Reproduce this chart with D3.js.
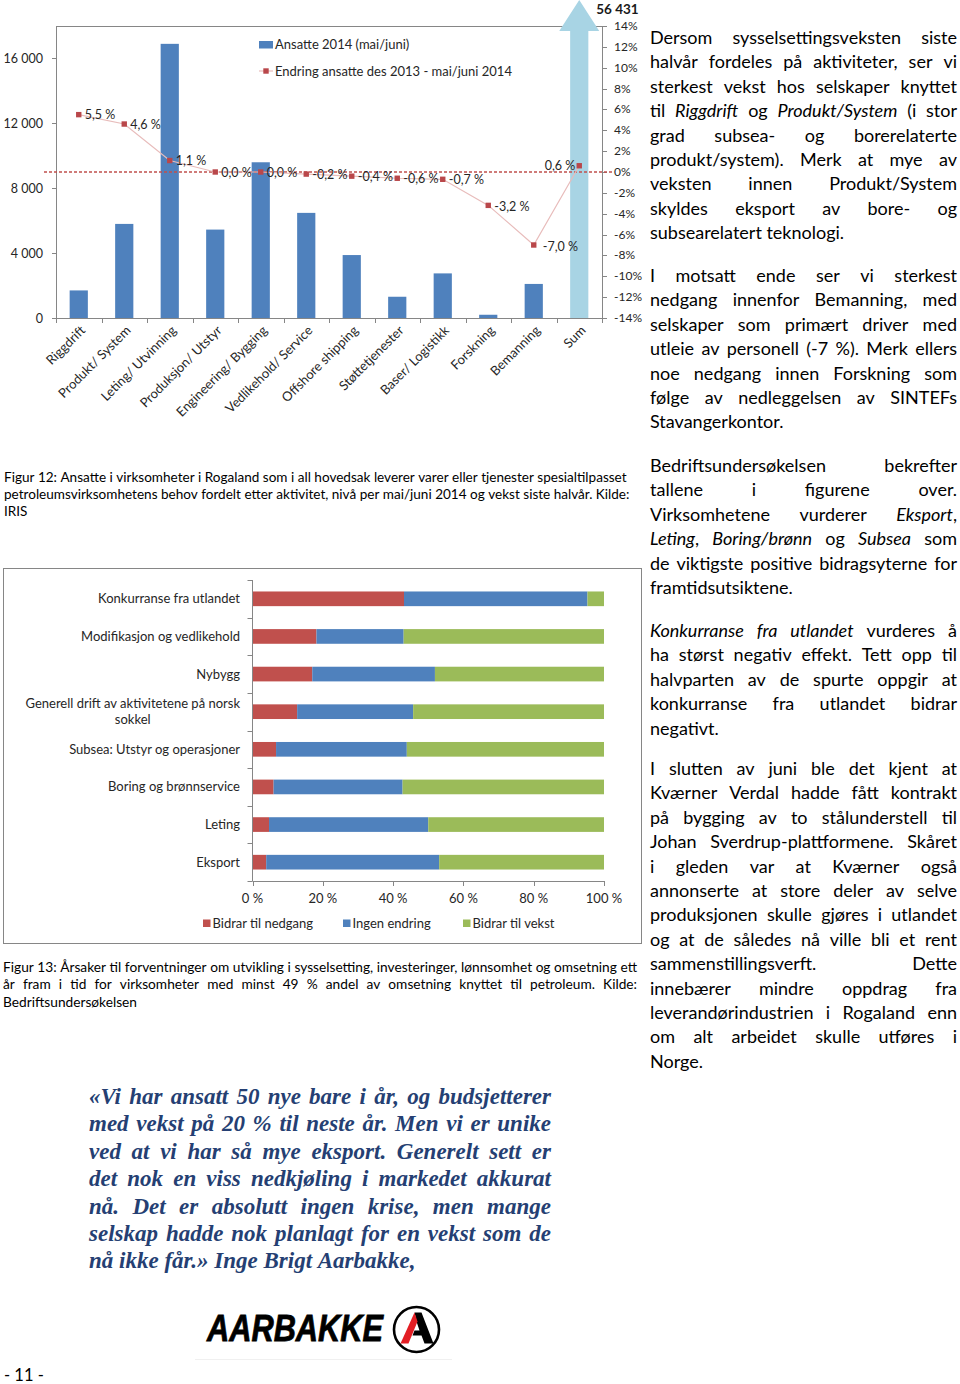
<!DOCTYPE html>
<html><head><meta charset="utf-8">
<script src="https://cdn.jsdelivr.net/npm/d3@7"></script>
<style>body{margin:0;background:#fff}svg{display:block}</style>
</head><body>
<svg id="page" width="960" height="1384"></svg>
<script>
// ---------------- DATA ----------------
const fig12Categories = ["Riggdrift","Produkt/ System","Leting/ Utvinning","Produksjon/ Utstyr","Engineering/ Bygging","Vedlikehold/ Service","Offshore shipping","Støttetjenester","Baser/ Logistikk","Forskning","Bemanning","Sum"];
const fig12Employees = [1700,5800,16900,5450,9600,6480,3880,1310,2750,200,2100,56431];
const fig12ChangePct = [5.5,4.6,1.1,0.0,0.0,-0.2,-0.4,-0.6,-0.7,-3.2,-7.0,0.6];
const fig12LeftTicks = [0,4000,8000,12000,16000];
const fig12RightTicks = [-14,-12,-10,-8,-6,-4,-2,0,2,4,6,8,10,12,14];
const fig12Legend = ["Ansatte 2014 (mai/juni)","Endring ansatte des 2013 - mai/juni 2014"];

const fig13Categories = ["Konkurranse fra utlandet","Modifikasjon og vedlikehold","Nybygg","Generell drift av aktivitetene på norsk sokkel","Subsea: Utstyr og operasjoner","Boring og brønnservice","Leting","Eksport"];
const fig13Negative = [43.1,18.2,17.0,12.7,6.7,6.0,4.7,3.9];
const fig13NoChange = [52.2,24.8,34.9,33.0,37.2,36.7,45.3,49.2];
const fig13Growth   = [4.7,57.0,48.1,54.3,56.1,57.3,50.0,46.9];
const fig13Ticks = [0,20,40,60,80,100];
const fig13Series = ["Bidrar til nedgang","Ingen endring","Bidrar til vekst"];

// ---------------- SETUP ----------------
const svg = d3.select("#page");
const tmp = svg.append("g").attr("visibility","hidden");
const FONT = "Lato, Carlito, 'Open Sans', sans-serif";
const AX = "#868686";
const TXT = "#262626";
const blue = "#4f81bd", red = "#c0504d", green = "#9bbb59";
const nb = d3.formatLocale({decimal:",", thousands:"\u00a0", grouping:[3], currency:["",""]});
const fmtK = nb.format(",d");
const pctLbl = v => (v<0?"-":"") + Math.abs(v).toFixed(1).replace(".",",") + " %";

function txt(g, x, y, s, size, anchor){
  return g.append("text").attr("x",x).attr("y",y).text(s)
    .attr("font-family",FONT).attr("font-size",size).attr("fill",TXT)
    .attr("text-anchor",anchor||"start");
}

// ---------------- FIGURE 12 ----------------
const g1 = svg.append("g");
const x1 = d3.scaleBand().domain(fig12Categories).range([56,602]).paddingInner(0.6).paddingOuter(0.3);
const y1 = d3.scaleLinear().domain([0,18000]).range([318,26]);
const yR = d3.scaleLinear().domain([-14,14]).range([318,26]);
const bw1 = x1.bandwidth();
const [pL,pR] = x1.range();
const [pB,pT] = y1.range();

// frame / axes
g1.append("line").attr("x1",pL).attr("x2",pR).attr("y1",pT+0.5).attr("y2",pT+0.5).attr("stroke",AX);
g1.append("line").attr("x1",pL+0.5).attr("x2",pL+0.5).attr("y1",pT).attr("y2",pB).attr("stroke",AX);
g1.append("line").attr("x1",pR+0.5).attr("x2",pR+0.5).attr("y1",pT).attr("y2",pB).attr("stroke",AX);
g1.append("line").attr("x1",pL).attr("x2",pR).attr("y1",pB+0.5).attr("y2",pB+0.5).attr("stroke",AX);
fig12LeftTicks.forEach(t=>{
  g1.append("line").attr("x1",pL-4).attr("x2",pL).attr("y1",Math.round(y1(t))+0.5).attr("y2",Math.round(y1(t))+0.5).attr("stroke",AX);
  txt(g1, pL-13, y1(t)+4.5, fmtK(t), 12.5, "end");
});
fig12RightTicks.forEach(t=>{
  g1.append("line").attr("x1",pR).attr("x2",pR+5).attr("y1",Math.round(yR(t))+0.5).attr("y2",Math.round(yR(t))+0.5).attr("stroke",AX);
  txt(g1, pR+12, yR(t)+4, t+"%", 12, "start");
});
d3.range(fig12Categories.length+1).forEach(i=>{
  const xx = Math.round(pL + i*x1.step())+0.5;
  g1.append("line").attr("x1",xx).attr("x2",xx).attr("y1",pB).attr("y2",pB+5).attr("stroke",AX);
});

// bars
const sumIdx = fig12Categories.length-1;
fig12Categories.forEach((c,i)=>{
  if(i===sumIdx) return;
  const v = fig12Employees[i];
  g1.append("rect").attr("x",x1(c)).attr("y",y1(v)).attr("width",bw1).attr("height",y1(0)-y1(v)).attr("fill",blue);
});
// Sum: off-scale arrow
(function(){
  const c = fig12Categories[sumIdx], v = fig12Employees[sumIdx];
  const sx = x1(c), cx = sx + bw1/2;
  const top = y1(Math.min(v, y1.domain()[1]));
  const headBase = top + 5, tip = top - 26, hw = 20;
  g1.append("path").attr("fill","#a8d4e4")
    .attr("d",`M${sx},${y1(0)}L${sx},${headBase}L${cx-hw},${headBase}L${cx},${tip}L${cx+hw},${headBase}L${sx+bw1},${headBase}L${sx+bw1},${y1(0)}Z`);
  g1.append("text").attr("x",cx+17).attr("y",tip+14).text(fmtK(v))
    .attr("font-family",FONT).attr("font-size",13.5).attr("font-weight","bold").attr("fill","#1a1a1a");
})();

// zero line
g1.append("line").attr("x1",pL-12).attr("x2",pR+10).attr("y1",yR(0)).attr("y2",yR(0))
  .attr("stroke",red).attr("stroke-width",1.4).attr("stroke-dasharray","3,2");

// change line
const cx1 = (c)=> x1(c)+bw1/2;
g1.append("path").datum(fig12ChangePct)
  .attr("d", d3.line().x((d,i)=>cx1(fig12Categories[i])).y(d=>yR(d)))
  .attr("fill","none").attr("stroke","#e8bcbb").attr("stroke-width",1.2);
fig12ChangePct.forEach((v,i)=>{
  const xx = cx1(fig12Categories[i]), yy = yR(v);
  g1.append("rect").attr("x",xx-2.7).attr("y",yy-2.7).attr("width",5.4).attr("height",5.4).attr("fill","#b9474a");
  if(i===sumIdx) txt(g1, xx-4, yy+4, pctLbl(v), 12.5, "end");
  else txt(g1, xx+(v<-5?9:6), yy+(v<-1?6:4.5), pctLbl(v), 12.5, "start");
});

// x labels
fig12Categories.forEach(c=>{
  const xx = cx1(c)+4, yy = pB+10;
  g1.append("text").attr("transform",`translate(${xx},${yy}) rotate(-45)`).text(c)
    .attr("font-family",FONT).attr("font-size",13).attr("fill",TXT).attr("text-anchor","end").attr("dy","0.35em");
});

// legend
g1.append("rect").attr("x",259).attr("y",41).attr("width",14).attr("height",7.5).attr("fill",blue);
txt(g1, 275, 49, fig12Legend[0], 13);
g1.append("line").attr("x1",259).attr("x2",273).attr("y1",71).attr("y2",71).attr("stroke","#e8bcbb").attr("stroke-width",1.2);
g1.append("rect").attr("x",263.3).attr("y",68.3).attr("width",5.4).attr("height",5.4).attr("fill","#b9474a");
txt(g1, 275, 76, fig12Legend[1], 13);

// ---------------- FIGURE 13 ----------------
const g2 = svg.append("g");
g2.append("rect").attr("x",3.5).attr("y",568.5).attr("width",638).attr("height",375).attr("fill","none").attr("stroke",AX);
const y2 = d3.scaleBand().domain(fig13Categories).range([580,881]).paddingInner(0.61).paddingOuter(0.305);
const x2 = d3.scaleLinear().domain([0,100]).range([252.5,604]);
const stackData = fig13Categories.map((c,i)=>({cat:c, neg:fig13Negative[i], none:fig13NoChange[i], grow:fig13Growth[i]}));
const keys = ["neg","none","grow"], cols = [red, blue, green];
const stacked = d3.stack().keys(keys)(stackData);
stacked.forEach((s,k)=>{
  s.forEach(d=>{
    g2.append("rect").attr("x",x2(d[0])).attr("y",y2(d.data.cat)).attr("width",x2(d[1])-x2(d[0])).attr("height",y2.bandwidth()).attr("fill",cols[k]);
  });
});
// axes
const [q0,q1] = y2.range();
g2.append("line").attr("x1",x2(0)).attr("x2",x2(0)).attr("y1",q0).attr("y2",q1).attr("stroke",AX);
g2.append("line").attr("x1",x2(0)).attr("x2",x2(100)).attr("y1",q1+0.5).attr("y2",q1+0.5).attr("stroke",AX);
d3.range(fig13Categories.length+1).forEach(i=>{
  const yy = Math.round(q0 + i*y2.step())+0.5;
  g2.append("line").attr("x1",x2(0)-5).attr("x2",x2(0)).attr("y1",yy).attr("y2",yy).attr("stroke",AX);
});
fig13Ticks.forEach(t=>{
  const xx = Math.round(x2(t))+0.5;
  g2.append("line").attr("x1",xx).attr("x2",xx).attr("y1",q1).attr("y2",q1+5).attr("stroke",AX);
  txt(g2, x2(t), q1+22, t+" %", 13, "middle");
});
// category labels with wrapping
function measure(s, size){
  const t = tmp.append("text").attr("font-family",FONT).attr("font-size",size).text(s);
  const w = t.node().getComputedTextLength(); t.remove(); return w;
}
fig13Categories.forEach(c=>{
  const cy = y2(c)+y2.bandwidth()/2;
  const size = 13, maxW = 235, right = 240;
  const words = c.split(" "); const lines=[]; let cur="";
  words.forEach(w=>{ const tr = cur?cur+" "+w:w; if(measure(tr,size)>maxW && cur){lines.push(cur);cur=w;} else cur=tr; });
  lines.push(cur);
  if(lines.length===1){ txt(g2, right, cy+4.5, c, size, "end"); }
  else{
    const wmax = d3.max(lines, l=>measure(l,size));
    const mid = right - wmax/2;
    lines.forEach((l,i)=> txt(g2, mid, cy+4.5+(i-(lines.length-1)/2)*16, l, size, "middle"));
  }
});
// legend
const legX = [203,343,463];
fig13Series.forEach((s,i)=>{
  g2.append("rect").attr("x",legX[i]).attr("y",919.5).attr("width",7.5).attr("height",7.5).attr("fill",cols[i]);
  txt(g2, legX[i]+9.5, 927.5, s, 13);
});

// ---------------- TEXT BLOCKS ----------------
function parseWords(line){
  let it=false; const words=[];
  line.split(" ").filter(s=>s.length).forEach(w=>{
    const segs=[]; let buf="";
    for(const ch of w){ if(ch==="_"){ if(buf) segs.push({t:buf,it}); buf=""; it=!it; } else buf+=ch; }
    if(buf) segs.push({t:buf,it});
    words.push(segs);
  });
  return words;
}
function styleText(t,o,size){
  return t.attr("font-family",o.family).attr("font-size",size).attr("font-weight",o.weight||"normal")
    .attr("font-style",o.style||"normal").attr("fill",o.color||"#000");
}
function fillSegs(t,segs,o){ segs.forEach(s=>t.append("tspan").attr("font-style", s.it?"italic":(o.style||"normal")).text(s.t)); }
function measureWord(segs,o,size){
  const t = styleText(tmp.append("text"),o,size); fillSegs(t,segs,o);
  const w = t.node().getComputedTextLength(); t.remove(); return w;
}
function spaceW(o,size){ return measureWord([{t:"n n"}],o,size) - measureWord([{t:"nn"}],o,size); }
function drawBlock(paras,o){
  const sp0 = spaceW(o,o.size);
  let maxNat = 0;
  paras.forEach(p=>p.lines.forEach(l=>{
    const ws = parseWords(l).map(w=>measureWord(w,o,o.size));
    maxNat = Math.max(maxNat, d3.sum(ws)+sp0*(ws.length-1));
  }));
  const fs = o.size*Math.min(1,(o.fitWidth||o.width)/maxNat);
  const sp = spaceW(o,fs);
  const g = svg.append("g");
  paras.forEach(p=>{
    p.lines.forEach((l,i)=>{
      const words = parseWords(l);
      const ws = words.map(w=>measureWord(w,o,fs));
      const last = i===p.lines.length-1;
      let gap = sp;
      if(o.justify && !last && words.length>1) gap = (o.width-d3.sum(ws))/(words.length-1);
      let xx = o.x; const yy = p.y + i*o.lh + o.base;
      words.forEach((w,k)=>{
        const t = styleText(g.append("text"),o,fs).attr("x",xx).attr("y",yy);
        fillSegs(t,w,o); xx += ws[k]+gap;
      });
    });
  });
}

// right column
drawBlock([
  {y:38, lines:[
    "Dersom sysselsettingsveksten siste",
    "halvår fordeles på aktiviteter, ser vi",
    "sterkest vekst hos selskaper knyttet",
    "til _Riggdrift_ og _Produkt/System_ (i stor",
    "grad subsea- og borerelaterte",
    "produkt/system). Merk at mye av",
    "veksten innen Produkt/System",
    "skyldes eksport av bore- og",
    "subsearelatert teknologi."]},
  {y:276, lines:[
    "I motsatt ende ser vi sterkest",
    "nedgang innenfor Bemanning, med",
    "selskaper som primært driver med",
    "utleie av personell (-7 %). Merk ellers",
    "noe nedgang innen Forskning som",
    "følge av nedleggelsen av SINTEFs",
    "Stavangerkontor."]},
  {y:466, lines:[
    "Bedriftsundersøkelsen bekrefter",
    "tallene i figurene over.",
    "Virksomhetene vurderer _Eksport_,",
    "_Leting_, _Boring/brønn_ og _Subsea_ som",
    "de viktigste positive bidragsyterne for",
    "framtidsutsiktene."]},
  {y:631, lines:[
    "_Konkurranse fra utlandet_ vurderes å",
    "ha størst negativ effekt. Tett opp til",
    "halvparten av de spurte oppgir at",
    "konkurranse fra utlandet bidrar",
    "negativt."]},
  {y:769, lines:[
    "I slutten av juni ble det kjent at",
    "Kværner Verdal hadde fått kontrakt",
    "på bygging av to stålunderstell til",
    "Johan Sverdrup-plattformene. Skåret",
    "i gleden var at Kværner også",
    "annonserte at store deler av selve",
    "produksjonen skulle gjøres i utlandet",
    "og at de således nå ville bli et rent",
    "sammenstillingsverft. Dette",
    "innebærer mindre oppdrag fra",
    "leverandørindustrien i Rogaland enn",
    "om alt arbeidet skulle utføres i",
    "Norge."]}
], {x:650, width:307, lh:24.4, size:18, family:FONT, justify:true, base:6, color:"#000"});

// captions
drawBlock([{y:477, lines:[
  "Figur 12: Ansatte i virksomheter i Rogaland som i all hovedsak leverer varer eller tjenester spesialtilpasset",
  "petroleumsvirksomhetens behov fordelt etter aktivitet, nivå per mai/juni 2014 og vekst siste halvår. Kilde:",
  "IRIS"]}], {x:4, width:626, fitWidth:626, lh:17, size:14, family:FONT, justify:false, base:4.5, color:"#000"});
drawBlock([{y:967, lines:[
  "Figur 13: Årsaker til forventninger om utvikling i sysselsetting, investeringer, lønnsomhet og omsetning ett",
  "år fram i tid for virksomheter med minst 49 % andel av omsetning knyttet til petroleum. Kilde:",
  "Bedriftsundersøkelsen"]}], {x:3, width:634, lh:17.5, size:14, family:FONT, justify:true, base:4.5, color:"#000"});

// quote
drawBlock([{y:1097, lines:[
  "«Vi har ansatt 50 nye bare i år, og budsjetterer",
  "med vekst på 20 % til neste år. Men vi er unike",
  "ved at vi har så mye eksport. Generelt sett er",
  "det nok en viss nedkjøling i markedet akkurat",
  "nå. Det er absolutt ingen krise, men mange",
  "selskap hadde nok planlagt for en vekst som de",
  "nå ikke får.» Inge Brigt Aarbakke,"]}],
  {x:89, width:462, lh:27.4, size:23, family:"'Liberation Serif', 'DejaVu Serif', serif", weight:"bold", style:"italic", justify:true, base:7, color:"#253f73"});

// logo
const lg = svg.append("g");
lg.append("line").attr("x1",195).attr("x2",452).attr("y1",1359.5).attr("y2",1359.5).attr("stroke","#f0f0f0");
lg.append("text").attr("x",207).attr("y",1341).text("AARBAKKE")
  .attr("font-family","'Liberation Sans Narrow','Liberation Sans',Arial,sans-serif").attr("font-weight","bold").attr("font-style","italic")
  .attr("font-size",36).attr("textLength",176).attr("lengthAdjust","spacingAndGlyphs")
  .attr("fill","#000").attr("stroke","#000").attr("stroke-width",0.8);
const lcx=416.5, lcy=1329.5;
lg.append("circle").attr("cx",lcx).attr("cy",lcy).attr("r",22.5).attr("fill","#fff").attr("stroke","#000").attr("stroke-width",2.6);
lg.append("path").attr("fill","#000").attr("d",`M${lcx-2},${lcy-17}L${lcx+5},${lcy-17}L${lcx+17},${lcy+14}L${lcx+8},${lcy+14}L${lcx+5},${lcy+6}L${lcx-4},${lcy+6}L${lcx-2},${lcy+1}L${lcx+3},${lcy+1}L${lcx},${lcy-8}Z`);
lg.append("path").attr("fill","#e31e24").attr("d",`M${lcx-2},${lcy-17}L${lcx+1},${lcy-8}L${lcx-8},${lcy+14}L${lcx-16},${lcy+14}Z`);

// page number
svg.append("text").attr("x",4).attr("y",1380.5).text("- 11 -").attr("font-family",FONT).attr("font-size",16.5).attr("fill","#000");
</script>
</body></html>
